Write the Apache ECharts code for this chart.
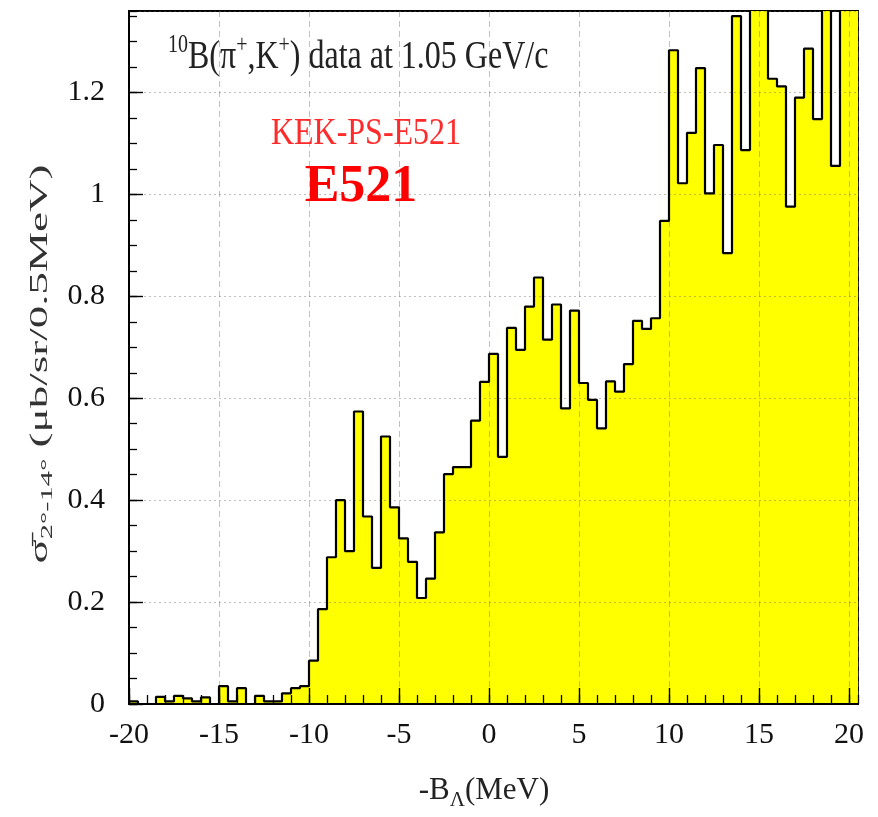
<!DOCTYPE html>
<html>
<head>
<meta charset="utf-8">
<script src="https://cdn.jsdelivr.net/npm/echarts@6/dist/echarts.min.js"></script>
<style>
  html, body { margin: 0; padding: 0; background: #ffffff; }
  #chart { width: 878px; height: 817px; }
</style>
</head>
<body>
<div id="chart"></div>
<script>
// Lower edge of each 0.5 MeV bin in -B_Lambda (MeV)
const binLow = [
  -20, -19.5, -19, -18.5, -18, -17.5, -17, -16.5, -16, -15.5,
  -15, -14.5, -14, -13.5, -13, -12.5, -12, -11.5, -11, -10.5,
  -10, -9.5, -9, -8.5, -8, -7.5, -7, -6.5, -6, -5.5,
  -5, -4.5, -4, -3.5, -3, -2.5, -2, -1.5, -1, -0.5,
  0, 0.5, 1, 1.5, 2, 2.5, 3, 3.5, 4, 4.5,
  5, 5.5, 6, 6.5, 7, 7.5, 8, 8.5, 9, 9.5,
  10, 10.5, 11, 11.5, 12, 12.5, 13, 13.5, 14, 14.5,
  15, 15.5, 16, 16.5, 17, 17.5, 18, 18.5, 19, 19.5,
  20
];
const binWidth = 0.5;

// Averaged cross section (ub/sr per 0.5 MeV) in each bin
const sigma = [
  0.005, 0.000, 0.000, 0.014, 0.005, 0.016, 0.011, 0.005, 0.013, 0.000,
  0.035, 0.005, 0.031, 0.000, 0.016, 0.005, 0.005, 0.021, 0.031, 0.035,
  0.085, 0.186, 0.288, 0.400, 0.300, 0.574, 0.368, 0.267, 0.525, 0.386,
  0.325, 0.279, 0.208, 0.246, 0.337, 0.451, 0.465, 0.465, 0.556, 0.632,
  0.687, 0.485, 0.738, 0.695, 0.780, 0.837, 0.715, 0.784, 0.580, 0.772,
  0.630, 0.597, 0.541, 0.633, 0.613, 0.667, 0.752, 0.736, 0.757, 0.948,
  1.283, 1.022, 1.121, 1.248, 1.002, 1.097, 0.885, 1.350, 1.087, 1.450,
  1.500, 1.227, 1.212, 0.976, 1.190, 1.286, 1.148, 1.420, 1.056, 1.480,
  1.440
];

// Axis ranges and tick steps
const xRange = [-20, 20.5];
const yRange = [0, 1.36];
const xMajor = 5, xMinor = 1;
const yMajor = 0.2, yMinor = 0.05;

// Step outline: one point per bin edge, last bin closed at its upper edge
const stepData = binLow.map((x, i) => [x, sigma[i]]);
stepData.push([binLow[binLow.length - 1] + binWidth, sigma[sigma.length - 1]]);

const SERIF = '"Liberation Serif", "Times New Roman", serif';
const gridLine = 'rgba(105,105,105,0.42)';
const plotBox = { left: 129, right: 20, top: 11, bottom: 113 };

// Axis carrying only the short minor ticks (second, overlaid grid)
function minorAxis(gridIndex, range, step, pos, len) {
  return {
    type: 'value', gridIndex: gridIndex, min: range[0], max: range[1], interval: step,
    position: pos, z: 3,
    axisLine: { show: false, onZero: false },
    axisTick: { show: true, inside: true, length: len, lineStyle: { color: '#000', width: 1.3 } },
    axisLabel: { show: false },
    splitLine: { show: false }
  };
}

const chart = echarts.init(document.getElementById('chart'), null, { renderer: 'canvas' });

chart.setOption({
  animation: false,
  backgroundColor: '#ffffff',
  grid: [
    Object.assign({ show: true, borderColor: '#000', borderWidth: 2, backgroundColor: 'transparent' }, plotBox),
    Object.assign({ show: false }, plotBox)
  ],
  xAxis: [
    {
      type: 'value', gridIndex: 0, min: xRange[0], max: xRange[1], interval: xMajor,
      position: 'bottom', z: 3,
      axisLine: { show: true, onZero: false, lineStyle: { color: '#000', width: 2 } },
      axisTick: { show: true, inside: true, length: 16, lineStyle: { color: '#000', width: 1.4 } },
      axisLabel: {
        show: true, showMaxLabel: false, margin: 16,
        color: '#111', fontFamily: SERIF, fontSize: 30
      },
      splitLine: { show: true, lineStyle: { color: gridLine, type: [6, 4], width: 1 } }
    },
    minorAxis(1, xRange, xMinor, 'bottom', 9)
  ],
  yAxis: [
    {
      type: 'value', gridIndex: 0, min: yRange[0], max: yRange[1], interval: yMajor,
      position: 'left', z: 3,
      axisLine: { show: true, onZero: false, lineStyle: { color: '#000', width: 2 } },
      axisTick: { show: true, inside: true, length: 14, lineStyle: { color: '#000', width: 1.4 } },
      axisLabel: {
        show: true, showMaxLabel: false, margin: 24,
        color: '#111', fontFamily: SERIF, fontSize: 30
      },
      splitLine: { show: true, lineStyle: { color: gridLine, type: [2, 3], width: 1.2 } }
    },
    minorAxis(1, yRange, yMinor, 'left', 8)
  ],
  series: [
    {
      // yellow fill under the histogram
      type: 'line', step: 'end', data: stepData,
      xAxisIndex: 0, yAxisIndex: 0,
      symbol: 'none', silent: true, clip: true, z: 2,
      lineStyle: { width: 0, opacity: 0 },
      areaStyle: { color: '#ffff00', opacity: 1 }
    },
    {
      // black step outline drawn above the grid lines
      type: 'line', step: 'end', data: stepData,
      xAxisIndex: 0, yAxisIndex: 0,
      symbol: 'none', silent: true, clip: true, z: 4,
      lineStyle: { color: '#000', width: 2.2 }
    }
  ],
  graphic: [
    {
      type: 'text', x: 168, y: 58, z: 10, scaleY: 1.22,
      style: {
        text: '{sup|10}{m|B(π}{sup|+}{m|,K}{sup|+}{m|) data at 1.05 GeV/c}',
        align: 'left', verticalAlign: 'middle',
        rich: {
          m: { fontFamily: SERIF, fontSize: 32, fill: '#222', lineHeight: 40 },
          sup: { fontFamily: SERIF, fontSize: 20, fill: '#222', lineHeight: 20, verticalAlign: 'top' }
        }
      }
    },
    {
      type: 'text', x: 366, y: 134, z: 10, scaleY: 1.2,
      style: {
        text: 'KEK-PS-E521', align: 'center', verticalAlign: 'middle',
        fontFamily: SERIF, fontSize: 32, fill: '#ff2b2b'
      }
    },
    {
      type: 'text', x: 361, y: 188, z: 10,
      style: {
        text: 'E521', align: 'center', verticalAlign: 'middle',
        fontFamily: SERIF, fontSize: 52, fontWeight: 'bold', fill: '#ff0000'
      }
    },
    {
      type: 'text', x: 40, y: 364, z: 10, rotation: Math.PI / 2, scaleX: 1.8,
      style: {
        text: '{m|σ̄}{sub|2°-14°}{m| (μb/sr/0.5MeV)}',
        align: 'center', verticalAlign: 'middle',
        rich: {
          m: { fontFamily: SERIF, fontSize: 25, fill: '#333', lineHeight: 32 },
          sub: { fontFamily: SERIF, fontSize: 17, fill: '#333', lineHeight: 17, verticalAlign: 'bottom' }
        }
      }
    },
    {
      type: 'text', x: 484, y: 791, z: 10,
      style: {
        text: '{m|-B}{sub|Λ}{m|(MeV)}',
        align: 'center', verticalAlign: 'middle',
        rich: {
          m: { fontFamily: SERIF, fontSize: 31, fill: '#222', lineHeight: 40 },
          sub: { fontFamily: SERIF, fontSize: 21, fill: '#222', lineHeight: 21, verticalAlign: 'bottom' }
        }
      }
    }
  ]
});
</script>
</body>
</html>
